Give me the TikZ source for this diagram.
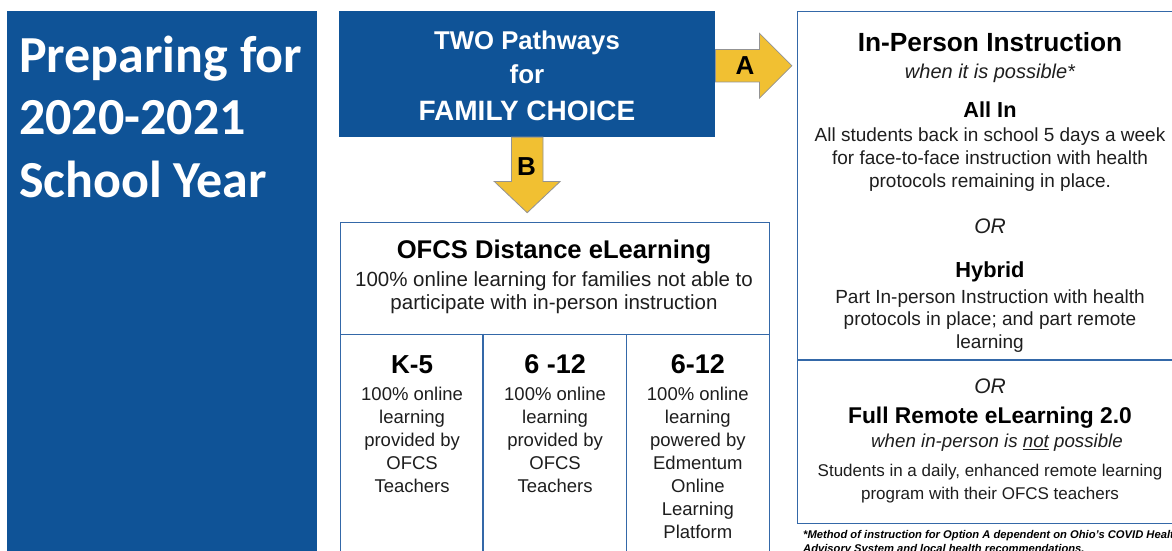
\documentclass[tikz,border=0pt]{standalone}
\usepackage{fontspec}
\setmainfont{Liberation Sans}
\newfontfamily\titlefont{Carlito}
\definecolor{ofcsblue}{RGB}{15, 83, 151}
\definecolor{lineblue}{RGB}{52, 104, 168}
\definecolor{arrowgold}{RGB}{241, 192, 50}
\definecolor{textgray}{RGB}{30, 30, 30}
\usetikzlibrary{calc}

\tikzset{
  bluebox/.style={fill=ofcsblue, draw=none, inner sep=0pt, anchor=north west},
  linebox/.style={draw=lineblue, line width=1.2pt, inner sep=0pt, anchor=north west},
  pathway arrow/.style={fill=arrowgold, draw=gray!85, line width=0.8pt},
  arrow label/.style={font=\bfseries\fontsize{26}{26}\selectfont, text=black, inner sep=0pt},
  heading/.style={font=\bfseries\fontsize{#1}{#1}\selectfont, text=black, anchor=base, inner sep=0pt},
  note/.style={font=\itshape\fontsize{#1}{#1}\selectfont, text=textgray, anchor=base, inner sep=0pt},
  body/.style={font=\fontsize{#1}{23}\selectfont, text=textgray, align=center, anchor=base, inner sep=0pt},
}

\begin{document}
\begin{tikzpicture}[x=1pt, y=-1pt]
  \clip (0,0) rectangle (1172,550);
  \fill[white] (0,0) rectangle (1172,550);

  % Title panel (multi-line nodes sit on the baseline of their last line)
  \node[bluebox, minimum width=310, minimum height=545] (titlepanel) at (7,11) {};
  \node[font=\titlefont\bfseries\fontsize{52}{62.5}\selectfont, text=white, align=left,
        anchor=base west, inner sep=0pt] (title) at (19,197) {Preparing for\\2020-2021\\School Year};

  % Two pathways
  \node[bluebox, minimum width=376, minimum height=125.7] (pathways) at (339,11) {};
  \node[heading=25.7, text=white] (twoline) at (527,49) {TWO Pathways};
  \node[heading=26, text=white] (forline) at (527,83) {for};
  \node[heading=28, text=white] (choiceline) at (527,120) {FAMILY CHOICE};

  % Arrows A and B
  \draw[pathway arrow] ($(pathways.east)+(0,-24.5)$) -- ++(44,0) -- ++(0,-16.3) -- ++(32.5,32.5)
    -- ++(-32.5,32.5) -- ++(0,-16.3) -- ++(-44,0) -- cycle;
  \node[arrow label] (labelA) at (745,66) {A};
  \draw[pathway arrow] ($(pathways.south)+(-15.8,0)$) -- ++(0,44.3) -- ++(-17.2,0) -- ++(33,31.3)
    -- ++(33,-31.3) -- ++(-17.2,0) -- ++(0,-44.3) -- cycle;
  \node[arrow label] (labelB) at (526.5,167) {B};

  % Distance eLearning
  \node[linebox, minimum width=428.5, minimum height=111.5] (distance) at (340,222) {};
  \node[linebox, minimum width=143, minimum height=230] (gradesK) at (340,333.5) {};
  \node[linebox, minimum width=143, minimum height=230] (gradesmid) at (483,333.5) {};
  \node[linebox, minimum width=142.5, minimum height=230] (gradeshigh) at (626,333.5) {};
  \draw[lineblue, line width=2.2pt] (gradesmid.north west) -- (gradesmid.south west);

  \node[heading=25.6] (disttitle) at (554,258.3) {OFCS Distance eLearning};
  \node[body=20.5, font=\fontsize{20.5}{22.5}\selectfont] (disttext) at (554,309)
    {100\% online learning for families not able to\\participate with in-person instruction};

  \node[heading=26] (headK) at (gradesK.north |- 0,373) {K-5};
  \node[heading=27] (headmid) at (gradesmid.north |- 0,373) {6 -12};
  \node[heading=27] (headhigh) at (gradeshigh.north |- 0,373) {6-12};
  \node[body=18.5] (textK) at (gradesK.north |- 0,492)
    {100\% online\\learning\\provided by\\OFCS\\Teachers};
  \node[body=18.5] (textmid) at (gradesmid.north |- 0,492)
    {100\% online\\learning\\provided by\\OFCS\\Teachers};
  \node[body=18.5] (texthigh) at (gradeshigh.north |- 0,538)
    {100\% online\\learning\\powered by\\Edmentum\\Online\\Learning\\Platform};

  % In-person instruction
  \node[linebox, minimum width=400, minimum height=348.3] (inperson) at (797,11) {};
  \node[linebox, minimum width=400, minimum height=163.5] (remote) at (797,359.3) {};

  \node[heading=26.3] (iptitle) at (990,51) {In-Person Instruction};
  \node[note=20] (ipnote) at (990,78) {when it is possible*};
  \node[heading=21.7] (allintitle) at (990,117) {All In};
  \node[body=19] (allintext) at (990,187.7)
    {All students back in school 5 days a week\\for face-to-face instruction with health\\protocols remaining in place.};
  \node[note=21] (orfirst) at (990,233) {OR};
  \node[heading=21.8] (hybridtitle) at (990,277.7) {Hybrid};
  \node[body=19, font=\fontsize{19}{22.5}\selectfont] (hybridtext) at (990,348.3)
    {Part In-person Instruction with health\\protocols in place; and part remote\\learning};

  % Full remote
  \node[note=21] (orsecond) at (990,393.3) {OR};
  \node[heading=22.8] (remotetitle) at (990,423.3) {Full Remote eLearning 2.0};
  \node[note=18.7] (remotenote) at (997,447.7) {when in-person is \underline{not} possible};
  \node[body=17, font=\fontsize{17}{22.6}\selectfont] (remotetext) at (990,499.3)
    {Students in a daily, enhanced remote learning\\program with their OFCS teachers};

  \node[font=\bfseries\itshape\fontsize{11.2}{13.5}\selectfont, text=black, align=left,
        anchor=base west, inner sep=0pt] (footnote) at (803,552)
    {*Method of instruction for Option A dependent on Ohio's COVID Health\\Advisory System and local health recommendations.};
\end{tikzpicture}
\end{document}
